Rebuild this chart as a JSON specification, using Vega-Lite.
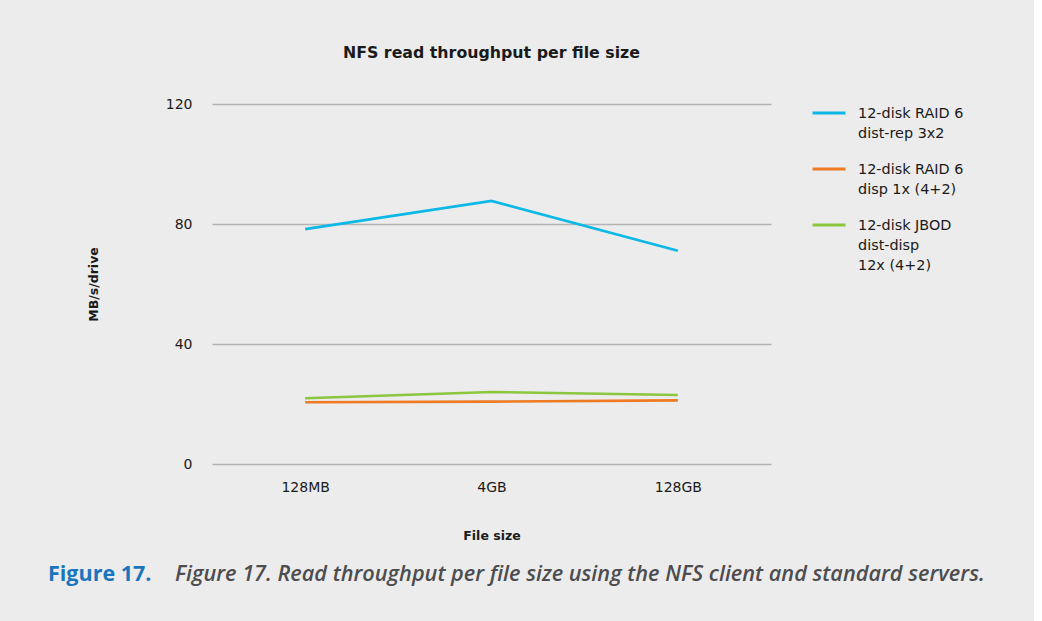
{
  "$schema": "https://vega.github.io/schema/vega-lite/v6.json",
  "background": "#ececec",
  "padding": {"left": 48, "top": 45, "right": 49, "bottom": 43},
  "bounds": "flush",
  "spacing": 99,
  "resolve": {"legend": {"color": "independent"}},
  "config": {
    "font": "DejaVu Sans",
    "view": {"stroke": null},
    "axis": {"labelColor": "#1a1a1a", "titleColor": "#1a1a1a", "labelFontSize": 14, "titleFontSize": 12.5, "titleFontWeight": "bold"},
    "style": {"guide-label": {"lineHeight": 20}}
  },
  "vconcat": [
    {
      "width": 559,
      "height": 360,
      "title": {"text": "NFS read throughput per file size", "fontSize": 15.8, "fontWeight": "bold", "color": "#1a1a1a", "offset": 27},
      "data": {
        "values": [
          {"size": "128MB", "series": "12-disk RAID 6|dist-rep 3x2", "value": 78.3},
          {"size": "4GB", "series": "12-disk RAID 6|dist-rep 3x2", "value": 87.7},
          {"size": "128GB", "series": "12-disk RAID 6|dist-rep 3x2", "value": 71.1},
          {"size": "128MB", "series": "12-disk RAID 6|disp 1x (4+2)", "value": 20.6},
          {"size": "4GB", "series": "12-disk RAID 6|disp 1x (4+2)", "value": 20.8},
          {"size": "128GB", "series": "12-disk RAID 6|disp 1x (4+2)", "value": 21.2},
          {"size": "128MB", "series": "12-disk JBOD|dist-disp|12x (4+2)", "value": 21.9},
          {"size": "4GB", "series": "12-disk JBOD|dist-disp|12x (4+2)", "value": 24.0},
          {"size": "128GB", "series": "12-disk JBOD|dist-disp|12x (4+2)", "value": 23.0}
        ]
      },
      "mark": {"type": "line", "strokeWidth": 2.6},
      "encoding": {
        "x": {
          "field": "size", "type": "ordinal", "sort": ["128MB", "4GB", "128GB"],
          "scale": {"type": "point", "padding": 0.5},
          "axis": {"title": "File size", "labelAngle": 0, "domain": false, "ticks": false, "grid": false, "labelPadding": 16, "titlePadding": 35}
        },
        "y": {
          "field": "value", "type": "quantitative",
          "scale": {"domain": [0, 120]},
          "axis": {"title": "MB/s/drive", "values": [0, 40, 80, 120], "domain": false, "ticks": false, "labelPadding": 20, "titlePadding": 65, "gridColor": "#b3b3b3", "gridWidth": 1.3}
        },
        "color": {
          "field": "series", "type": "nominal",
          "scale": {
            "domain": ["12-disk RAID 6|dist-rep 3x2", "12-disk RAID 6|disp 1x (4+2)", "12-disk JBOD|dist-disp|12x (4+2)"],
            "range": ["#0cb8e6", "#ee7a24", "#8cc63f"]
          },
          "legend": {
            "title": null, "orient": "none", "legendX": 599, "legendY": -15,
            "symbolType": "M-1,0.36H1", "symbolSize": 1089, "symbolStrokeWidth": 3,
            "labelFontSize": 14.4, "labelColor": "#1a1a1a", "labelOffset": 11,
            "labelExpr": "split(datum.label, '|')", "labelBaseline": "top",
            "rowPadding": 4, "labelLimit": 300
          }
        }
      }
    },
    {
      "bounds": "flush",
      "spacing": 0,
      "hconcat": [
        {
          "width": 10, "height": 1,
          "data": {"values": []},
          "mark": "point",
          "encoding": {},
          "title": {"text": "Figure 17.", "orient": "bottom", "anchor": "start", "offset": 0, "dx": -164, "font": "Open Sans", "fontSize": 21.5, "fontWeight": "bold", "color": "#1b75bc"}
        },
        {
          "width": 10, "height": 1,
          "data": {"values": []},
          "mark": "point",
          "encoding": {},
          "title": {"text": "Figure 17. Read throughput per file size using the NFS client and standard servers.", "orient": "bottom", "anchor": "start", "offset": 0, "dx": -47, "font": "Open Sans", "fontSize": 21.7, "fontWeight": 600, "fontStyle": "italic", "color": "#4d4d4f"}
        }
      ]
    }
  ]
}
